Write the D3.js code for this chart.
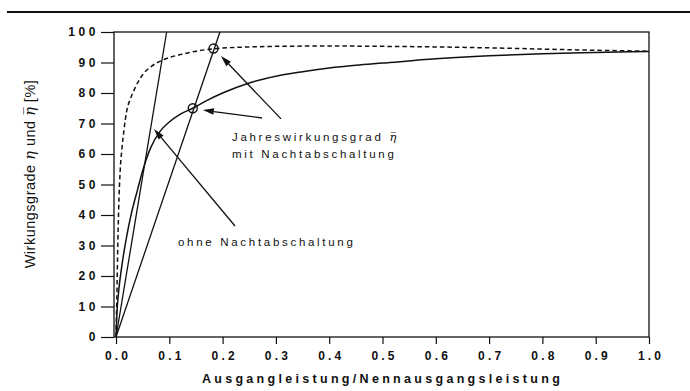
<!DOCTYPE html>
<html><head><meta charset="utf-8">
<script src="https://cdn.jsdelivr.net/npm/d3@7"></script>
<style>
html,body{margin:0;padding:0;background:#fff;}
svg text{font-family:"Liberation Sans",Arial,sans-serif;fill:#111;}
</style></head><body>
<svg id="c" width="690" height="391"></svg>
<script>
const xTicks = [0,0.1,0.2,0.3,0.4,0.5,0.6,0.7,0.8,0.9,1.0];
const xTickLabels = ["0.0","0.1","0.2","0.3","0.4","0.5","0.6","0.7","0.8","0.9","1.0"];
const yTicks = [0,10,20,30,40,50,60,70,80,90,100];
// efficiency without night shutoff (solid)
const solidX = [0,0.0015,0.005,0.0107,0.02,0.029,0.04,0.05,0.065,0.083,0.1,0.12,0.144,0.17,0.2,0.25,0.3,0.35,0.4,0.45,0.5,0.6,0.7,0.8,0.9,1.0];
const solidY = [0,7,15,23,33,40.6,48,54.5,62,67.5,70.5,73,75,77.5,80,83.3,85.5,87,88.2,89.1,89.8,91.2,92.2,92.9,93.3,93.6];
// efficiency with night shutoff (dashed)
const dashX = [0,0.0015,0.003,0.005,0.008,0.0107,0.015,0.02,0.028,0.0356,0.048,0.067,0.089,0.126,0.183,0.25,0.3,0.4,0.5,0.6,0.7,0.8,0.9,1.0];
const dashY = [0,12,27,42,55,61,68,74,78.5,81.6,85.5,88.8,90.9,92.8,94.5,95.1,95.3,95.4,95.3,95.1,94.8,94.4,94.0,93.7];
// straight lines from the origin
const lineAX = [0,0.095], lineAY = [0,100];
const lineBX = [0,0.195], lineBY = [0,100];
// circled points
const markX = [0.144,0.183], markY = [75,94.6];
// annotation arrows: tail -> head
const arrowTailX = [0.3096,0.274,0.2233], arrowTailY = [71.5,71.8,36.4];
const arrowHeadX = [0.197,0.163,0.0713], arrowHeadY = [92.1,74.4,68.2];
const xTitle = "Ausgangleistung/Nennausgangsleistung";

const svg = d3.select("#c");
const x = d3.scaleLinear().domain([0,1]).range([116,649]);
const y = d3.scaleLinear().domain([0,100]).range([337,32]);

// top rule
svg.append("line").attr("x1",7).attr("x2",690).attr("y1",12).attr("y2",12)
  .attr("stroke","#111").attr("stroke-width",2);

// frame
svg.append("rect").attr("x",114).attr("y",y(100)).attr("width",x(1)-114).attr("height",y(0)-y(100))
  .attr("fill","none").attr("stroke","#111").attr("stroke-width",1.3);

// axes
const ax = svg.append("g").attr("transform",`translate(0,${y(0)})`)
  .call(d3.axisBottom(x).tickValues(xTicks).tickFormat((d,i)=>xTickLabels[i]).tickSize(7).tickSizeOuter(0).tickPadding(7));
ax.select(".domain").remove();
ax.selectAll("line").attr("stroke","#111").attr("stroke-width",1.2);
ax.selectAll("text").attr("font-size",12).attr("letter-spacing",3.2).attr("font-weight","bold").attr("fill","#111").attr("dx","1.6");

const ay = svg.append("g").attr("transform",`translate(114,0)`)
  .call(d3.axisLeft(y).tickValues(yTicks).tickSize(13).tickSizeOuter(0).tickPadding(2));
ay.select(".domain").remove();
ay.selectAll("line").attr("stroke","#111").attr("stroke-width",1.2);
ay.selectAll("text").attr("font-size",12).attr("letter-spacing",3.6).attr("font-weight","bold").attr("fill","#111");

// titles
svg.append("text").attr("x",x(0.5)).attr("y",383).attr("text-anchor","middle")
  .attr("font-size",12.5).attr("letter-spacing",3.3).attr("font-weight","bold").text(xTitle);

const yt = svg.append("text").attr("transform","translate(35,174) rotate(-90)").attr("text-anchor","middle")
  .attr("font-size",14.5).attr("letter-spacing",0.5);
yt.append("tspan").text("Wirkungsgrade ");
yt.append("tspan").attr("font-style","italic").attr("font-family","DejaVu Serif").text("η");
yt.append("tspan").text(" und ");
yt.append("tspan").attr("font-style","italic").attr("font-family","DejaVu Serif").text("η\u0305");
yt.append("tspan").text(" [%]");

// curves
const line = d3.line().x(d=>x(d[0])).y(d=>y(d[1])).curve(d3.curveMonotoneX);
const solid = solidX.map((v,i)=>[v,solidY[i]]);
const dashed = dashX.map((v,i)=>[v,dashY[i]]);
svg.append("path").attr("d",line(solid)).attr("fill","none").attr("stroke","#111").attr("stroke-width",1.5);
svg.append("path").attr("d",line(dashed)).attr("fill","none").attr("stroke","#111").attr("stroke-width",1.5)
  .attr("stroke-dasharray","4.5,3");
const straight = d3.line().x(d=>x(d[0])).y(d=>y(d[1]));
svg.append("path").attr("d",straight(lineAX.map((v,i)=>[v,lineAY[i]]))).attr("fill","none").attr("stroke","#111").attr("stroke-width",1.3);
svg.append("path").attr("d",straight(lineBX.map((v,i)=>[v,lineBY[i]]))).attr("fill","none").attr("stroke","#111").attr("stroke-width",1.3);

// markers
svg.selectAll("circle.m").data(markX).enter().append("circle")
  .attr("cx",(d)=>x(d)).attr("cy",(d,i)=>y(markY[i])).attr("r",4.5)
  .attr("fill","none").attr("stroke","#111").attr("stroke-width",1.4);

// arrows
arrowTailX.forEach((tx,i)=>{
  const x1=x(tx), y1=y(arrowTailY[i]), x2=x(arrowHeadX[i]), y2=y(arrowHeadY[i]);
  const ang=Math.atan2(y2-y1,x2-x1), L=11, W=3.2;
  const bx=x2-L*Math.cos(ang), by=y2-L*Math.sin(ang);
  svg.append("line").attr("x1",x1).attr("y1",y1).attr("x2",bx).attr("y2",by).attr("stroke","#111").attr("stroke-width",1.3);
  const p=[[x2,y2],[bx+W*Math.sin(ang),by-W*Math.cos(ang)],[bx-W*Math.sin(ang),by+W*Math.cos(ang)]];
  svg.append("polygon").attr("points",p.map(q=>q.join(",")).join(" ")).attr("fill","#111");
});

// annotation texts
const t1 = svg.append("text").attr("x",x(0.2176)).attr("y",y(64.3)).attr("font-size",11.5).attr("letter-spacing",2.7);
t1.append("tspan").text("Jahreswirkungsgrad ");
t1.append("tspan").attr("font-style","italic").attr("font-family","DejaVu Serif").text("η\u0305");
svg.append("text").attr("x",x(0.2176)).attr("y",y(58.7)).attr("font-size",11.5).attr("letter-spacing",2.7).text("mit Nachtabschaltung");
svg.append("text").attr("x",x(0.1163)).attr("y",y(29.7)).attr("font-size",11.5).attr("letter-spacing",2.7).text("ohne Nachtabschaltung");
</script></body></html>
